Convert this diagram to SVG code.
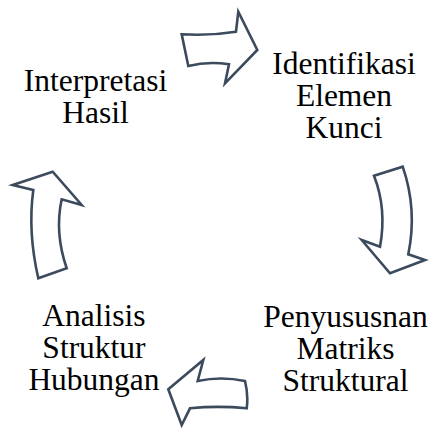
<svg xmlns="http://www.w3.org/2000/svg" width="430" height="428" viewBox="0 0 430 428">
<style>
.arr{fill:#ffffff;stroke:#3b4a5c;stroke-width:2.6;stroke-linejoin:miter}
.t{font-size:31.5px;fill:#000000;text-anchor:middle}
</style>
<rect width="430" height="428" fill="#ffffff"/>
<g id="connectors">
<path id="arrow-top" class="arr" d="M181.7,34.3 Q209,36 236,31.7 L238.3,11.7 L257.3,50 L225,83.3 L229,64.3 Q208,61 188.3,66 Z"/>
<path id="arrow-right" class="arr" d="M374,175.7 L402.7,166.7 Q417.5,209.5 408.3,254.3 L425,260 L390,273.3 L361.7,240 L380,246.7 Q387,209 374,175.7 Z"/>
<path id="arrow-bottom" class="arr" d="M168.3,389.3 L203.3,360 L197.7,381 Q221,376 245,381 Q248.5,395 246.7,408.3 Q218,405.5 190,408.3 L181.7,425 Z"/>
<path id="arrow-left" class="arr" d="M12.7,185 L52.7,171.7 L81.7,205 L61.7,199.3 Q54.4,232.8 66.7,268.3 L38.3,278.3 Q27.6,231.8 33.3,190 Z"/>
</g>
<g font-family="'Liberation Serif', 'Times New Roman', Tinos, 'DejaVu Serif', serif">
<g id="node-interpretasi">
<text class="t" x="95.5" y="90.7">Interpretasi</text>
<text class="t" x="95.5" y="122.7">Hasil</text>
</g>
<g id="node-identifikasi">
<text class="t" x="344" y="74">Identifikasi</text>
<text class="t" x="344" y="106">Elemen</text>
<text class="t" x="344" y="138.3">Kunci</text>
</g>
<g id="node-penyusunan">
<text class="t" x="345.5" y="326.7">Penyususnan</text>
<text class="t" x="345.5" y="358.5">Matriks</text>
<text class="t" x="345.5" y="391">Struktural</text>
</g>
<g id="node-analisis">
<text class="t" x="94" y="325.5">Analisis</text>
<text class="t" x="94" y="358.3">Struktur</text>
<text class="t" x="94" y="390">Hubungan</text>
</g>
</g>
</svg>
